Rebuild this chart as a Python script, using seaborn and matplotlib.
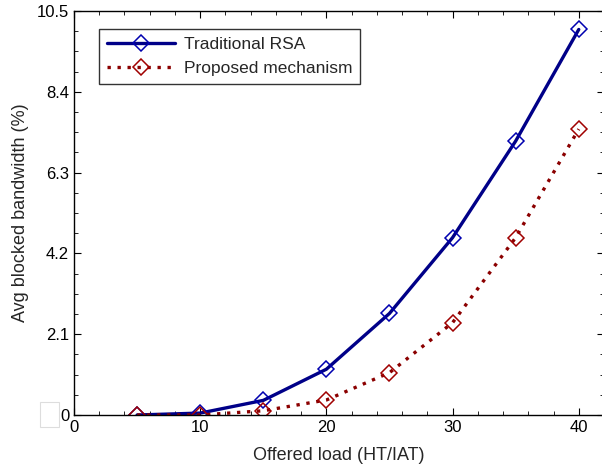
import matplotlib
matplotlib.use("Agg")
import matplotlib.pyplot as plt
import seaborn as sns
import pandas as pd
from matplotlib.ticker import MultipleLocator
from matplotlib.patches import Rectangle

sns.set_style("ticks")
plt.rcParams['font.family'] = ['Liberation Sans', 'DejaVu Sans']

load = [5, 10, 15, 20, 25, 30, 35, 40]
traditional = [0.0, 0.05, 0.38, 1.19, 2.64, 4.61, 7.12, 10.02]
proposed = [0.0, 0.0, 0.11, 0.39, 1.10, 2.40, 4.61, 7.43]
series_names = ["Traditional RSA", "Proposed mechanism"]
y_ticks = [0, 2.1, 4.2, 6.3, 8.4, 10.5]
y_tick_labels = ["0", "2.1", "4.2", "6.3", "8.4", "10.5"]
x_ticks = [0, 10, 20, 30, 40]

df = pd.DataFrame({
    "load": load * 2,
    "value": traditional + proposed,
    "series": [series_names[0]] * len(load) + [series_names[1]] * len(load),
})

fig = plt.figure(figsize=(6.02, 4.68), dpi=100)
ax_w = 530
ax = fig.add_axes([74 / 602, (468 - 415) / 468, ax_w / 602, 404 / 468])

colors = {series_names[0]: "#000088", series_names[1]: "#8B0000"}
sns.lineplot(data=df[df.series == series_names[0]], x="load", y="value",
             color=colors[series_names[0]], lw=2.4, marker="D", markersize=8.3,
             markerfacecolor="none", markeredgecolor="#0000B0", markeredgewidth=1.1,
             label=series_names[0], ax=ax)
sns.lineplot(data=df[df.series == series_names[1]], x="load", y="value",
             color=colors[series_names[1]], lw=2.4, linestyle=(0, (1, 2)), marker="D",
             markersize=8.3, markerfacecolor="none", markeredgecolor="#A00000",
             markeredgewidth=1.1, label=series_names[1], ax=ax)

ax.set_xlim(0, 42)
ax.set_ylim(0, 10.5)
ax.set_xticks(x_ticks)
ax.set_yticks(y_ticks)
ax.set_yticklabels(y_tick_labels)
ax.xaxis.set_minor_locator(MultipleLocator(2))
ax.yaxis.set_minor_locator(MultipleLocator(0.525))
ax.tick_params(which="both", direction="in", top=True, right=True, labelsize=12,
               color="black", labelcolor="black")
ax.tick_params(which="major", length=5)
ax.tick_params(which="minor", length=3)
for s in ax.spines.values():
    s.set_visible(True)
    s.set_color("black")
    s.set_linewidth(1.0)

ax.set_xlabel("Offered load (HT/IAT)", fontsize=13, labelpad=9)
ax.set_ylabel("Avg blocked bandwidth (%)", fontsize=13, labelpad=6)

leg = ax.legend(loc="upper left", bbox_to_anchor=((99 - 74) / ax_w, (415 - 29) / 404),
                borderaxespad=0, fontsize=12.5, frameon=True, fancybox=False,
                edgecolor="black", handlelength=3.9, handletextpad=0.55,
                borderpad=0.45, labelspacing=0.5)
leg.get_frame().set_linewidth(1.0)

fig.patches.append(Rectangle((40 / 602, 1 - 427 / 468), 19 / 602, 25 / 468,
                             transform=fig.transFigure, facecolor="white",
                             edgecolor="#dddddd", lw=0.8))

fig.savefig("out.png", dpi=100)
